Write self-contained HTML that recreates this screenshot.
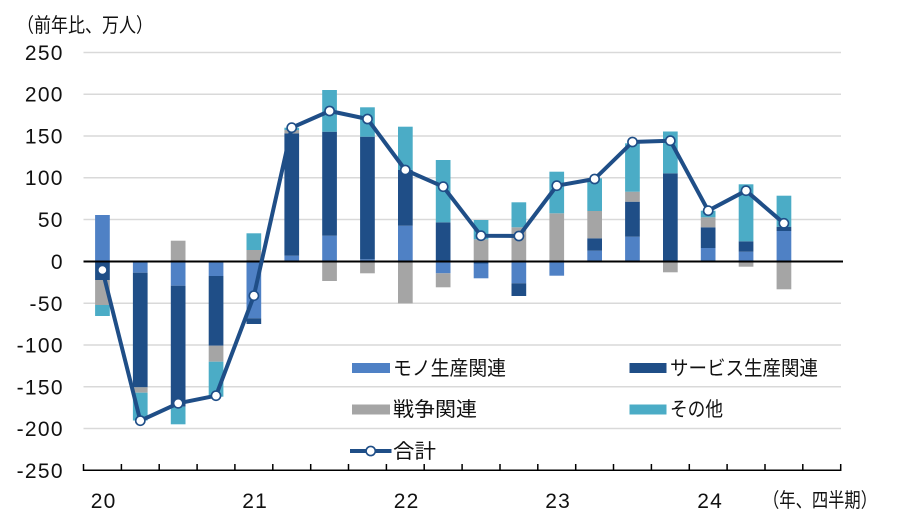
<!DOCTYPE html>
<html><head><meta charset="utf-8"><style>
html,body{margin:0;padding:0;background:#fff;width:900px;height:522px;overflow:hidden}
svg{display:block}
text{font-family:"Liberation Sans","Noto Sans CJK JP",sans-serif;fill:#111}
.j{font-size:20px}
.n{font-size:21px;letter-spacing:1.3px}
</style></head><body>
<svg width="900" height="522" viewBox="0 0 900 522" xmlns="http://www.w3.org/2000/svg">
<!-- gridlines -->
<g stroke="#d9d9d9" stroke-width="1.5">
<line x1="83.5" x2="841" y1="52.5" y2="52.5"/>
<line x1="83.5" x2="841" y1="94.2" y2="94.2"/>
<line x1="83.5" x2="841" y1="136" y2="136"/>
<line x1="83.5" x2="841" y1="177.7" y2="177.7"/>
<line x1="83.5" x2="841" y1="219.5" y2="219.5"/>
<line x1="83.5" x2="841" y1="303.3" y2="303.3"/>
<line x1="83.5" x2="841" y1="345" y2="345"/>
<line x1="83.5" x2="841" y1="386.8" y2="386.8"/>
<line x1="83.5" x2="841" y1="428.5" y2="428.5"/>
</g>
<g>
<!-- 0 -->
<rect x="95.1" y="215" width="14.7" height="46.5" fill="#4f81c5"/>
<rect x="95.1" y="261.5" width="14.7" height="18.5" fill="#1f4e87"/>
<rect x="95.1" y="280" width="14.7" height="25" fill="#a5a5a5"/>
<rect x="95.1" y="305" width="14.7" height="11" fill="#4bacc6"/>
<!-- 1 -->
<rect x="132.9" y="261.5" width="14.7" height="11.2" fill="#4f81c5"/>
<rect x="132.9" y="272.7" width="14.7" height="114.6" fill="#1f4e87"/>
<rect x="132.9" y="387.3" width="14.7" height="5.4" fill="#a5a5a5"/>
<rect x="132.9" y="392.7" width="14.7" height="27.8" fill="#4bacc6"/>
<!-- 2 -->
<rect x="170.8" y="240.7" width="14.7" height="20.8" fill="#a5a5a5"/>
<rect x="170.8" y="261.5" width="14.7" height="24.2" fill="#4f81c5"/>
<rect x="170.8" y="285.7" width="14.7" height="121" fill="#1f4e87"/>
<rect x="170.8" y="406.7" width="14.7" height="17.6" fill="#4bacc6"/>
<!-- 3 -->
<rect x="208.7" y="261.5" width="14.7" height="14.5" fill="#4f81c5"/>
<rect x="208.7" y="276" width="14.7" height="69.7" fill="#1f4e87"/>
<rect x="208.7" y="345.7" width="14.7" height="16" fill="#a5a5a5"/>
<rect x="208.7" y="361.7" width="14.7" height="35" fill="#4bacc6"/>
<!-- 4 -->
<rect x="246.5" y="250" width="14.7" height="11.5" fill="#a5a5a5"/>
<rect x="246.5" y="233.3" width="14.7" height="16.7" fill="#4bacc6"/>
<rect x="246.5" y="261.5" width="14.7" height="56.8" fill="#4f81c5"/>
<rect x="246.5" y="318.3" width="14.7" height="5.7" fill="#1f4e87"/>
<!-- 5 -->
<rect x="284.4" y="255.7" width="14.7" height="5.8" fill="#4f81c5"/>
<rect x="284.4" y="133.3" width="14.7" height="122.4" fill="#1f4e87"/>
<rect x="284.4" y="130" width="14.7" height="3.3" fill="#a5a5a5"/>
<rect x="284.4" y="127.7" width="14.7" height="2.3" fill="#4bacc6"/>
<!-- 6 -->
<rect x="322.2" y="235.7" width="14.7" height="25.8" fill="#4f81c5"/>
<rect x="322.2" y="131.7" width="14.7" height="104" fill="#1f4e87"/>
<rect x="322.2" y="90" width="14.7" height="41.7" fill="#4bacc6"/>
<rect x="322.2" y="261.5" width="14.7" height="19.5" fill="#a5a5a5"/>
<!-- 7 -->
<rect x="360.1" y="259.3" width="14.7" height="2.2" fill="#4f81c5"/>
<rect x="360.1" y="136.7" width="14.7" height="122.6" fill="#1f4e87"/>
<rect x="360.1" y="107.3" width="14.7" height="29.4" fill="#4bacc6"/>
<rect x="360.1" y="261.5" width="14.7" height="11.8" fill="#a5a5a5"/>
<!-- 8 -->
<rect x="398" y="225.7" width="14.7" height="35.8" fill="#4f81c5"/>
<rect x="398" y="170" width="14.7" height="55.7" fill="#1f4e87"/>
<rect x="398" y="126.7" width="14.7" height="43.3" fill="#4bacc6"/>
<rect x="398" y="261.5" width="14.7" height="41.8" fill="#a5a5a5"/>
<!-- 9 -->
<rect x="435.8" y="222.3" width="14.7" height="39.2" fill="#1f4e87"/>
<rect x="435.8" y="160" width="14.7" height="62.3" fill="#4bacc6"/>
<rect x="435.8" y="261.5" width="14.7" height="11.8" fill="#4f81c5"/>
<rect x="435.8" y="273.3" width="14.7" height="14" fill="#a5a5a5"/>
<!-- 10 -->
<rect x="473.7" y="239.3" width="14.7" height="22.2" fill="#a5a5a5"/>
<rect x="473.7" y="220" width="14.7" height="19.3" fill="#4bacc6"/>
<rect x="473.7" y="261.5" width="14.7" height="2" fill="#1f4e87"/>
<rect x="473.7" y="263.5" width="14.7" height="14.8" fill="#4f81c5"/>
<!-- 11 -->
<rect x="511.5" y="227.3" width="14.7" height="34.2" fill="#a5a5a5"/>
<rect x="511.5" y="202.3" width="14.7" height="25" fill="#4bacc6"/>
<rect x="511.5" y="261.5" width="14.7" height="21.8" fill="#4f81c5"/>
<rect x="511.5" y="283.3" width="14.7" height="12.7" fill="#1f4e87"/>
<!-- 12 -->
<rect x="549.4" y="213.3" width="14.7" height="48.2" fill="#a5a5a5"/>
<rect x="549.4" y="171.7" width="14.7" height="41.6" fill="#4bacc6"/>
<rect x="549.4" y="261.5" width="14.7" height="14.2" fill="#4f81c5"/>
<!-- 13 -->
<rect x="587.3" y="250.7" width="14.7" height="10.8" fill="#4f81c5"/>
<rect x="587.3" y="238.3" width="14.7" height="12.4" fill="#1f4e87"/>
<rect x="587.3" y="211" width="14.7" height="27.3" fill="#a5a5a5"/>
<rect x="587.3" y="178.3" width="14.7" height="32.7" fill="#4bacc6"/>
<!-- 14 -->
<rect x="625.1" y="236.7" width="14.7" height="24.8" fill="#4f81c5"/>
<rect x="625.1" y="201.7" width="14.7" height="35" fill="#1f4e87"/>
<rect x="625.1" y="191.7" width="14.7" height="10" fill="#a5a5a5"/>
<rect x="625.1" y="143.3" width="14.7" height="48.4" fill="#4bacc6"/>
<!-- 15 -->
<rect x="663" y="173.3" width="14.7" height="88.2" fill="#1f4e87"/>
<rect x="663" y="131.5" width="14.7" height="41.8" fill="#4bacc6"/>
<rect x="663" y="261.5" width="14.7" height="10.8" fill="#a5a5a5"/>
<!-- 16 -->
<rect x="700.8" y="248" width="14.7" height="13.5" fill="#4f81c5"/>
<rect x="700.8" y="227.3" width="14.7" height="20.7" fill="#1f4e87"/>
<rect x="700.8" y="217.3" width="14.7" height="10" fill="#a5a5a5"/>
<rect x="700.8" y="210.7" width="14.7" height="6.6" fill="#4bacc6"/>
<!-- 17 -->
<rect x="738.7" y="251.7" width="14.7" height="9.8" fill="#4f81c5"/>
<rect x="738.7" y="241.3" width="14.7" height="10.4" fill="#1f4e87"/>
<rect x="738.7" y="184.3" width="14.7" height="57" fill="#4bacc6"/>
<rect x="738.7" y="261.5" width="14.7" height="5.2" fill="#a5a5a5"/>
<!-- 18 -->
<rect x="776.6" y="231" width="14.7" height="30.5" fill="#4f81c5"/>
<rect x="776.6" y="226.7" width="14.7" height="4.3" fill="#1f4e87"/>
<rect x="776.6" y="195.7" width="14.7" height="31" fill="#4bacc6"/>
<rect x="776.6" y="261.5" width="14.7" height="27.8" fill="#a5a5a5"/>
</g>
<line x1="83.5" x2="843" y1="261.5" y2="261.5" stroke="#000" stroke-width="2"/>
<g stroke="#000" stroke-width="1.5">
<line x1="83.5" x2="841" y1="470.3" y2="470.3"/>
<line x1="83.5" x2="83.5" y1="464" y2="471"/>
<line x1="121.4" x2="121.4" y1="464" y2="471"/>
<line x1="159.2" x2="159.2" y1="464" y2="471"/>
<line x1="197.1" x2="197.1" y1="464" y2="471"/>
<line x1="234.9" x2="234.9" y1="464" y2="471"/>
<line x1="272.8" x2="272.8" y1="464" y2="471"/>
<line x1="310.7" x2="310.7" y1="464" y2="471"/>
<line x1="348.5" x2="348.5" y1="464" y2="471"/>
<line x1="386.4" x2="386.4" y1="464" y2="471"/>
<line x1="424.2" x2="424.2" y1="464" y2="471"/>
<line x1="462.1" x2="462.1" y1="464" y2="471"/>
<line x1="500" x2="500" y1="464" y2="471"/>
<line x1="537.8" x2="537.8" y1="464" y2="471"/>
<line x1="575.7" x2="575.7" y1="464" y2="471"/>
<line x1="613.5" x2="613.5" y1="464" y2="471"/>
<line x1="651.4" x2="651.4" y1="464" y2="471"/>
<line x1="689.3" x2="689.3" y1="464" y2="471"/>
<line x1="727.1" x2="727.1" y1="464" y2="471"/>
<line x1="765" x2="765" y1="464" y2="471"/>
<line x1="802.8" x2="802.8" y1="464" y2="471"/>
<line x1="840.7" x2="840.7" y1="464" y2="471"/>
</g>
<polyline fill="none" stroke="#1f4e87" stroke-width="4" stroke-linejoin="round" points="102.4,270 140.3,420.7 178.2,403.3 216,395.7 253.9,295.7 291.7,127.7 329.6,111 367.5,119 405.3,170 443.2,186.7 481,235.7 518.9,236 556.8,185.7 594.6,179 632.5,142 670.3,140.7 708.2,210.7 746,190.7 783.9,223.3"/>
<g fill="#fff" stroke="#1f4e87" stroke-width="1.6">
<circle cx="102.4" cy="270" r="4.6"/>
<circle cx="140.3" cy="420.7" r="4.6"/>
<circle cx="178.2" cy="403.3" r="4.6"/>
<circle cx="216" cy="395.7" r="4.6"/>
<circle cx="253.9" cy="295.7" r="4.6"/>
<circle cx="291.7" cy="127.7" r="4.6"/>
<circle cx="329.6" cy="111" r="4.6"/>
<circle cx="367.5" cy="119" r="4.6"/>
<circle cx="405.3" cy="170" r="4.6"/>
<circle cx="443.2" cy="186.7" r="4.6"/>
<circle cx="481" cy="235.7" r="4.6"/>
<circle cx="518.9" cy="236" r="4.6"/>
<circle cx="556.8" cy="185.7" r="4.6"/>
<circle cx="594.6" cy="179" r="4.6"/>
<circle cx="632.5" cy="142" r="4.6"/>
<circle cx="670.3" cy="140.7" r="4.6"/>
<circle cx="708.2" cy="210.7" r="4.6"/>
<circle cx="746" cy="190.7" r="4.6"/>
<circle cx="783.9" cy="223.3" r="4.6"/>
</g>
<g class="n" text-anchor="end">
<text x="63.8" y="60">250</text>
<text x="63.8" y="101.7">200</text>
<text x="63.8" y="143.5">150</text>
<text x="63.8" y="185.2">100</text>
<text x="63.8" y="227">50</text>
<text x="63.8" y="269">0</text>
<text x="63.8" y="310.8">-50</text>
<text x="63.8" y="352.5">-100</text>
<text x="63.8" y="394.3">-150</text>
<text x="63.8" y="436">-200</text>
<text x="63.8" y="477.8">-250</text>
</g>
<g class="n" text-anchor="middle">
<text x="103.7" y="508">20</text>
<text x="255.2" y="508">21</text>
<text x="406.7" y="508">22</text>
<text x="558.2" y="508">23</text>
<text x="710.2" y="508">24</text>
</g>
<text class="j" x="763" y="507" textLength="114" lengthAdjust="spacingAndGlyphs">（年、四半期）</text>
<text class="j" x="17" y="32" textLength="136" lengthAdjust="spacingAndGlyphs">（前年比、万人）</text>
<rect x="352" y="363" width="38" height="10" fill="#4f81c5"/>
<text class="j" x="393" y="375" textLength="113" lengthAdjust="spacingAndGlyphs">モノ生産関連</text>
<rect x="629.5" y="363" width="37" height="10" fill="#1f4e87"/>
<text class="j" x="670" y="375" textLength="148" lengthAdjust="spacingAndGlyphs">サービス生産関連</text>
<rect x="352" y="404.5" width="38" height="10" fill="#a5a5a5"/>
<text class="j" x="393" y="416" textLength="84" lengthAdjust="spacingAndGlyphs">戦争関連</text>
<rect x="629.5" y="404.5" width="37" height="10" fill="#4bacc6"/>
<text class="j" x="670" y="416" textLength="53" lengthAdjust="spacingAndGlyphs">その他</text>
<line x1="350" x2="391.5" y1="451" y2="451" stroke="#1f4e87" stroke-width="4"/>
<circle cx="370.7" cy="451" r="4.6" fill="#fff" stroke="#1f4e87" stroke-width="1.6"/>
<text class="j" x="393" y="458" textLength="43" lengthAdjust="spacingAndGlyphs">合計</text>
</svg>
</body></html>
